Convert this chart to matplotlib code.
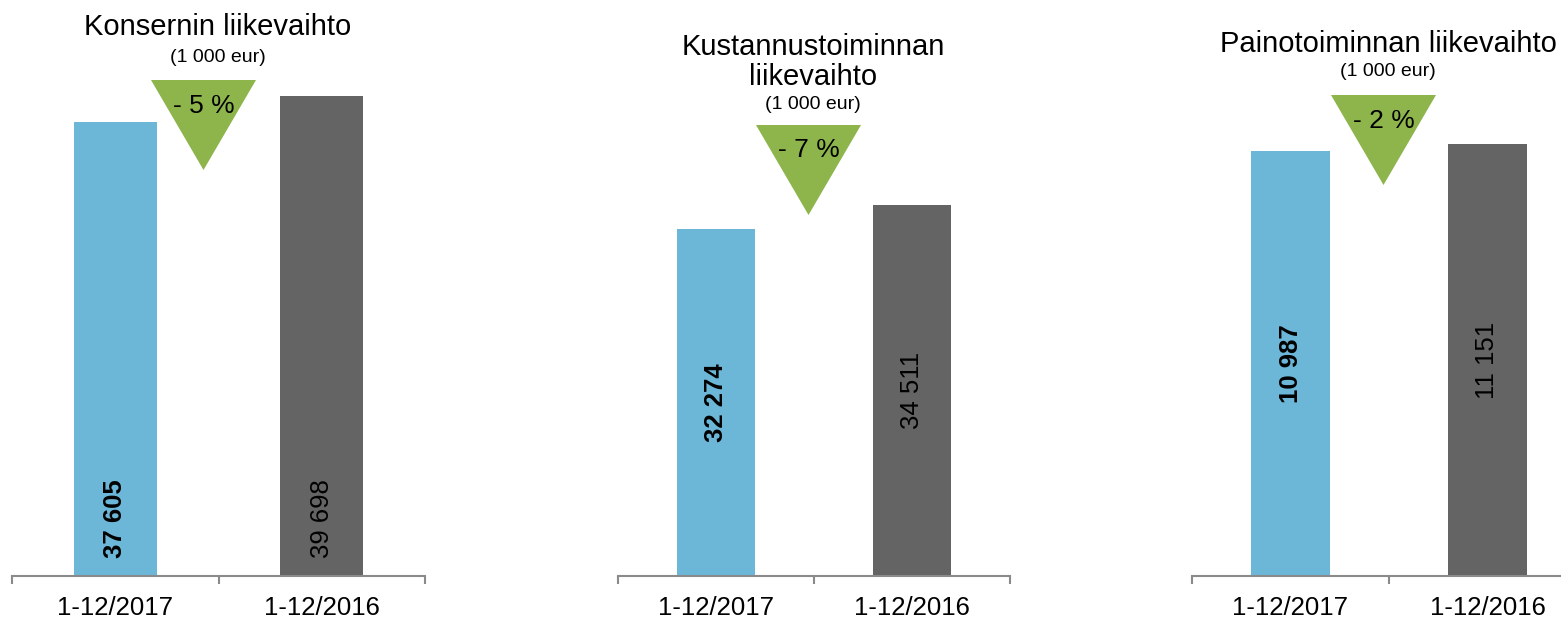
import matplotlib
matplotlib.use('Agg')
import matplotlib.pyplot as plt
from matplotlib.patches import Polygon

plt.rcParams['font.family'] = ['Liberation Sans', 'DejaVu Sans']

# data
categories = ['1-12/2017', '1-12/2016']
titles = ['Konsernin liikevaihto', 'Kustannustoiminnan\nliikevaihto', 'Painotoiminnan liikevaihto']
konserni = [37605, 39698]
kustannus = [32274, 34511]
paino = [10987, 11151]
change_labels = ['- 5 %', '- 7 %', '- 2 %']

series = [konserni, kustannus, paino]
bar_colors = ['#6cb7d8', '#646464']
W, H = 1561, 620
fig = plt.figure(figsize=(W / 100, H / 100), dpi=100)


def fx(px):
    return px / W


def fy(py):
    return 1 - py / H


# axes placement in pixels: left, right, baseline, ylim top
layout = [(12, 425, 576, 47660), (618, 1010, 576, 53510), (1192, 1586, 576, 14878)]
# titles: center x, baseline of last title line, subtitle baseline
title_pos = [(218, 35, 62), (813, 85, 109), (1388, 52, 76)]
# triangles: left x, right x, top y, apex y, text baseline
tri_pos = [(151, 256, 80, 170, 113), (756, 861, 125, 215, 157), (1331, 1436, 95, 185, 128)]

for i, vals in enumerate(series):
    left, right, base, ymax = layout[i]
    ax = fig.add_axes([fx(left), fy(base), fx(right - left), base / H])
    x = range(len(vals))
    ax.bar(x, vals, width=0.4, color=bar_colors, zorder=2)
    ax.set_xlim(-0.5, 1.5)
    ax.set_ylim(0, ymax)
    for s in ['left', 'top', 'right']:
        ax.spines[s].set_visible(False)
    ax.spines['bottom'].set_color('#8a8a8a')
    ax.spines['bottom'].set_linewidth(1.5)
    ax.set_yticks([])
    ax.set_xticks([-0.5, 0.5, 1.5])
    ax.set_xticklabels([])
    ax.tick_params(axis='x', which='major', length=5.5, width=1.5, color='#8a8a8a')
    ax.set_xticks(list(x), minor=True)
    ax.set_xticklabels(categories, minor=True, fontsize=18.5)
    ax.tick_params(axis='x', which='minor', length=0, pad=14.5)
    ax.patch.set_visible(False)

    for j, v in enumerate(vals):
        txt = f'{v:,}'.replace(',', ' ')
        weight = 'bold' if j == 0 else 'normal'
        if i == 0:
            ax.annotate(txt, (j, 0), xytext=(0, 13), textcoords='offset points',
                        rotation=90, ha='center', va='bottom', fontsize=18.5,
                        fontweight=weight, color='black')
        else:
            ax.text(j, v / 2, txt, rotation=90, ha='center', va='center',
                    fontsize=18.5, fontweight=weight, color='black')

    cx, tb, sb = title_pos[i]
    fig.text(fx(cx), fy(tb), titles[i], ha='center', va='baseline', fontsize=21,
             linespacing=1.1, multialignment='center')
    fig.text(fx(cx), fy(sb), '(1 000 eur)', ha='center', va='baseline', fontsize=14)

    tl, tr, tt, ta, txb = tri_pos[i]
    tri = Polygon([(fx(tl), fy(tt)), (fx(tr), fy(tt)), (fx((tl + tr) / 2), fy(ta))],
                  closed=True, transform=fig.transFigure, facecolor='#8db54b',
                  edgecolor='none', zorder=5)
    fig.patches.append(tri)
    fig.text(fx((tl + tr) / 2), fy(txb), change_labels[i], ha='center', va='baseline',
             fontsize=19, zorder=6)

fig.savefig('out.png', dpi=100)
